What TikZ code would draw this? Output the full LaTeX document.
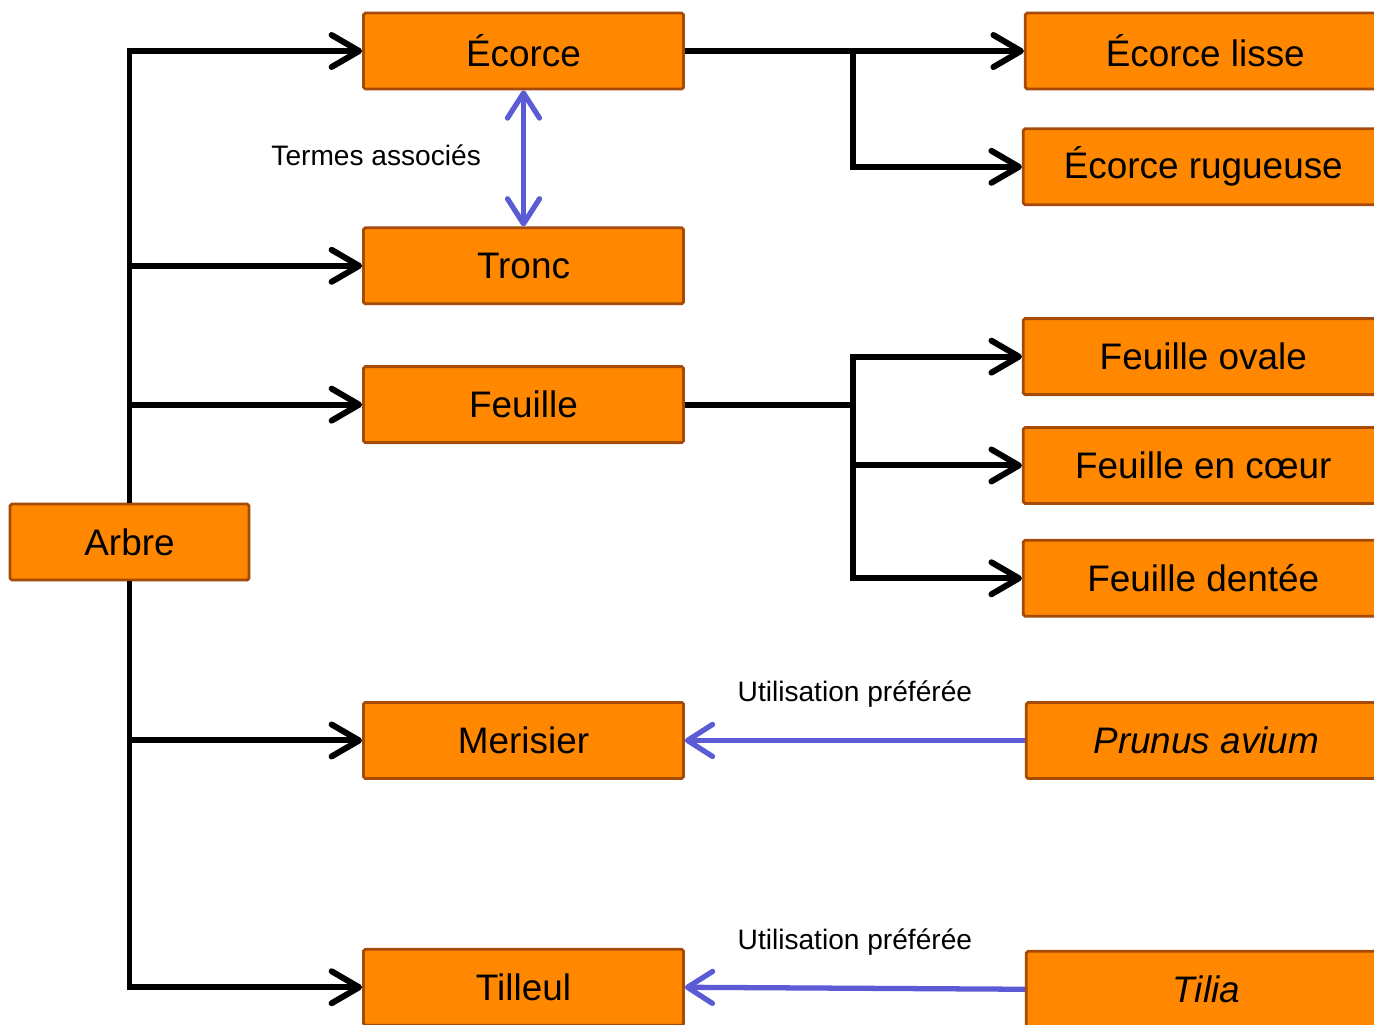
\documentclass[tikz,border=0pt]{standalone}
\usepackage{fontspec}
\setmainfont{Liberation Sans}
\usepackage{tikz}
\usetikzlibrary{arrows.meta,positioning}
\definecolor{trorange}{RGB}{255,136,0}
\definecolor{trbrown}{RGB}{166,74,8}
\definecolor{trblue}{RGB}{91,91,214}
\tikzstyle{arrow} = [line width=3.4pt,-{Straight Barb[length=5.5mm,width=6.4mm,round]},color=black]

\begin{document}
\begin{tikzpicture}[
    concept/.style={rectangle, rounded corners=1pt, draw=trbrown, line width=1.6pt, fill=trorange, minimum width=6.4cm, minimum height=1.52cm, font=\fontsize{21}{25}\selectfont, text centered, inner sep=0pt},
    wide/.style={concept, minimum width=7.2cm},
    synonym/.style={line width=3pt, trblue, -{Straight Barb[length=5mm,width=6.4mm,round]}},
    link/.style={line width=3.4pt, black},
    lbl/.style={font=\fontsize{16}{19}\selectfont, text=black, inner sep=0pt}
]
\useasboundingbox (0,0) rectangle (27.48,-20.48);

% Root node
\node (arbre) [concept, minimum width=4.78cm] at (2.59,-10.84) {Arbre};

% Middle column
\node (ecorce) [concept] at (10.47,-1.02) {Écorce};
\node (tronc) [concept, below=2.72cm of ecorce] {Tronc};
\node (feuille) [concept, below=1.2cm of tronc] {Feuille};
\node (merisier) [concept, below=5.14cm of feuille] {Merisier};
\node (tilleul) [concept, below=3.36cm of merisier] {Tilleul};

% Right column
\node (lisse) [wide, right=6.78cm of ecorce] {Écorce lisse};
\node (rugueuse) [wide, below=0.74cm of lisse, xshift=-0.04cm] {Écorce rugueuse};
\node (ovale) [wide, below=2.22cm of rugueuse] {Feuille ovale};
\node (coeur) [wide, below=0.6cm of ovale] {Feuille en cœur};
\node (dentee) [wide, below=0.68cm of coeur] {Feuille dentée};
\node (prunus) [wide, right=6.8cm of merisier] {\itshape Prunus avium};
\node (tilia) [wide, right=6.8cm of tilleul, yshift=-0.04cm] {\itshape Tilia};

% Branch points
\coordinate (ejoin) at (17.06,-1.02);
\coordinate (fjoin) at (ejoin |- feuille.east);

% Connections
\draw[arrow] (arbre.north) |- (ecorce.west);
\draw[arrow] (arbre.north) |- (tronc.west);
\draw[arrow] (arbre.north) |- (feuille.west);
\draw[arrow] (arbre.south) |- (merisier.west);
\draw[arrow] (arbre.south) |- (tilleul.west);
\draw[arrow] (ecorce.east) -- (lisse.west);
\draw[arrow] (ejoin) |- (rugueuse.west);
\draw[link] (feuille.east) -- (fjoin);
\draw[arrow] (fjoin) |- (ovale.west);
\draw[arrow] (fjoin) |- (coeur.west);
\draw[arrow] (fjoin) |- (dentee.west);

% Related and preferred terms
\draw[synonym, {Straight Barb[length=5mm,width=6.4mm,round]}-{Straight Barb[length=5mm,width=6.4mm,round]}] (ecorce.south) -- node[lbl, left=0.8cm, yshift=0.06cm] (termes) {Termes associés} (tronc.north);
\draw[synonym] (prunus.west) -- node[lbl, above=0.6cm] (pref1) {Utilisation préférée} (merisier.east);
\draw[synonym] (tilia.west) -- node[lbl, above=0.6cm] (pref2) {Utilisation préférée} (tilleul.east);
\end{tikzpicture}
\end{document}
